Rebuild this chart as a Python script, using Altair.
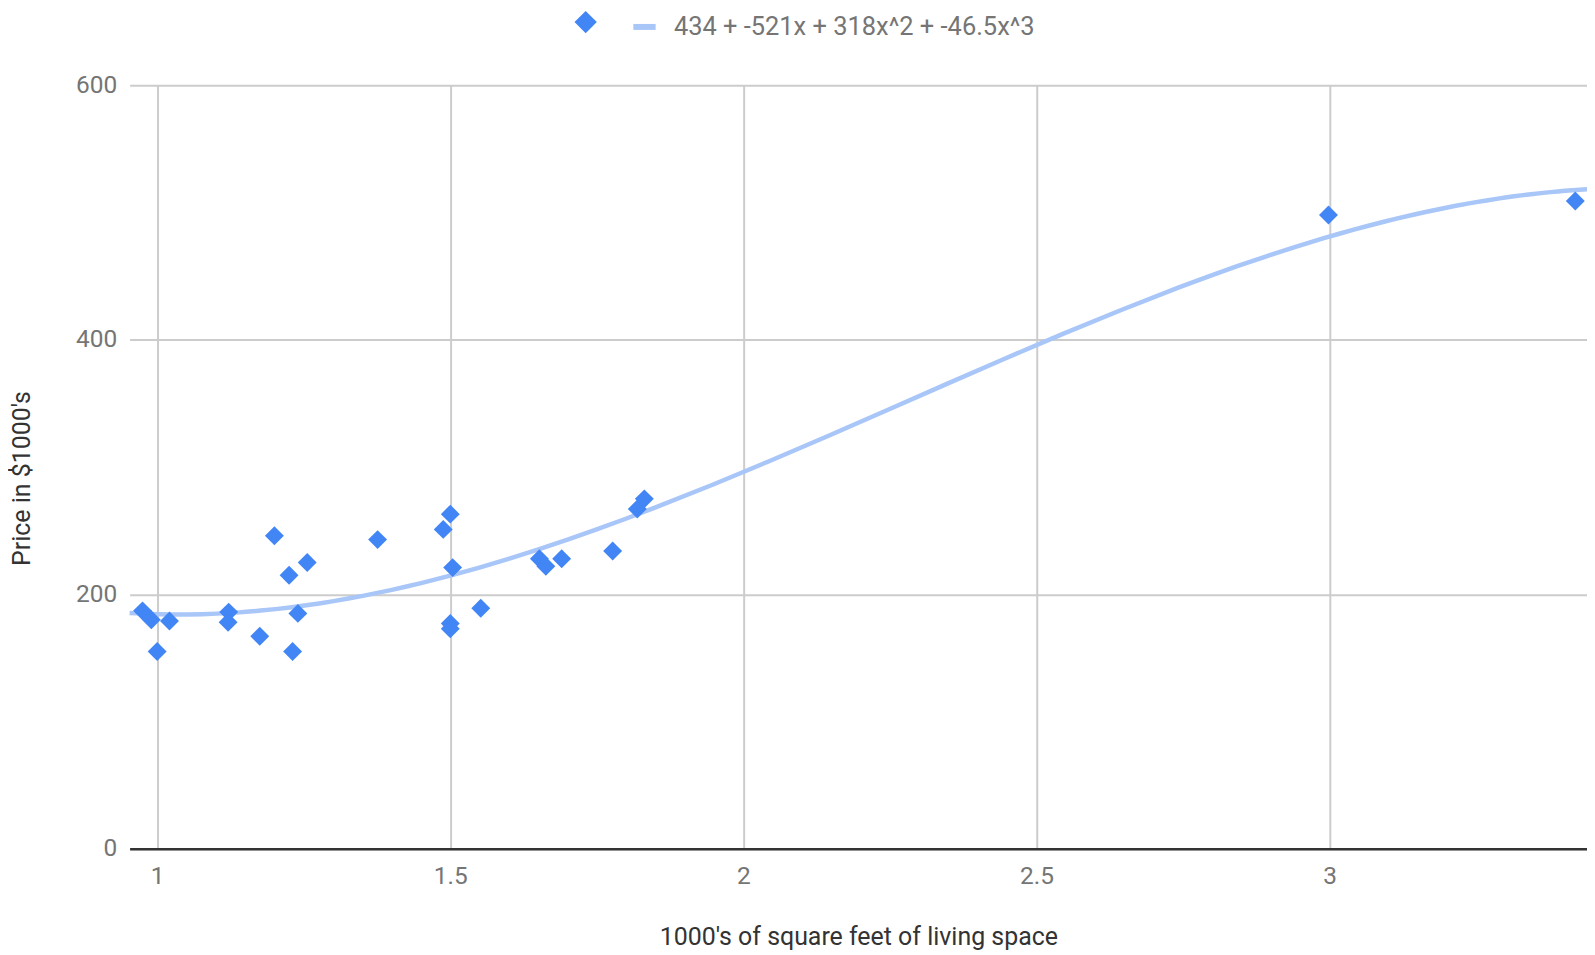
import altair as alt
import pandas as pd

# ---- data ----
sqft = [0.975, 0.990, 1.000, 1.021, 1.122, 1.121, 1.175, 1.200, 1.225, 1.231,
        1.240, 1.256, 1.376, 1.488, 1.500, 1.504, 1.500, 1.500, 1.552, 1.652,
        1.663, 1.690, 1.777, 1.819, 1.831, 2.998, 3.419]
price = [187, 180, 155, 179, 186, 178, 167, 246, 215, 155,
         185, 225, 243, 251, 263, 221, 177, 173, 189, 228,
         222, 228, 234, 267, 275, 498, 509]

points_label = " "
trend_label = "434 + -521x + 318x^2 + -46.5x^3"
series_names = [points_label, trend_label]

x_ticks = [1, 1.5, 2, 2.5, 3]
y_ticks = [0, 200, 400, 600]
x_domain = [0.953, 3.439]
y_domain = [0, 600]

x_title = "1000's of square feet of living space"
y_title = "Price in $1000's"

df = pd.DataFrame({"x": sqft, "y": price, "series": points_label})

FONT = "Roboto"
LABEL_COLOR = "#757575"
TITLE_COLOR = "#333333"
POINT_COLOR = "#4285F4"
TREND_COLOR = "#a9c6f8"

leg = alt.Legend(
    title=None,
    orient="none",
    direction="horizontal",
    legendX=443,
    legendY=-78,
    labelFont=FONT,
    labelFontSize=25.5,
    labelColor=LABEL_COLOR,
    labelLimit=2000,
    symbolSize=500,
    symbolStrokeWidth=6,
    symbolStrokeColor=TREND_COLOR,
    symbolFillColor=POINT_COLOR,
    labelOffset=15,
    columnPadding=6,
    padding=0,
)

x_enc = alt.X(
    "x:Q",
    scale=alt.Scale(domain=x_domain, nice=False, zero=False),
    axis=alt.Axis(
        values=x_ticks,
        format="~g",
        title=x_title,
        labelFont=FONT,
        labelFontSize=24.5,
        labelColor=LABEL_COLOR,
        labelPadding=16,
        ticks=False,
        domain=True,
        domainColor="#333333",
        domainWidth=2.5,
        grid=True,
        gridColor="#cccccc",
        gridWidth=2,
        titleFont=FONT,
        titleFontSize=25,
        titleFontWeight="normal",
        titleColor=TITLE_COLOR,
        titleBaseline="middle",
        titleY=88,
        labelFlush=False,
    ),
)
y_enc = alt.Y(
    "y:Q",
    scale=alt.Scale(domain=y_domain, nice=False),
    axis=alt.Axis(
        values=y_ticks,
        title=y_title,
        labelFont=FONT,
        labelFontSize=24.5,
        labelColor=LABEL_COLOR,
        labelPadding=13,
        ticks=False,
        domain=False,
        grid=True,
        gridColor="#cccccc",
        gridWidth=2,
        titleFont=FONT,
        titleFontSize=25,
        titleFontWeight="normal",
        titleColor=TITLE_COLOR,
        titleAngle=-90,
        titleAlign="center",
        titleBaseline="middle",
        titleX=-108,
        titleY=394,
    ),
)

base = alt.Chart(df)

trend = (
    base.transform_regression("x", "y", method="poly", order=3, extent=x_domain)
    .transform_calculate(series=f"'{trend_label}'")
    .mark_line(strokeWidth=4.5)
    .encode(
        x=x_enc,
        y=y_enc,
        stroke=alt.Stroke(
            "series:N",
            scale=alt.Scale(domain=series_names, range=["transparent", TREND_COLOR]),
            legend=leg,
        ),
    )
)

pts = base.mark_point(filled=True, size=360, opacity=1).encode(
    x=x_enc,
    y=y_enc,
    fill=alt.Fill(
        "series:N",
        scale=alt.Scale(domain=series_names, range=[POINT_COLOR, POINT_COLOR]),
        legend=leg,
    ),
    shape=alt.Shape(
        "series:N",
        scale=alt.Scale(domain=series_names, range=["diamond", "stroke"]),
        legend=leg,
    ),
)

chart = (
    alt.layer(trend, pts)
    .resolve_scale(fill="shared", stroke="shared", shape="shared")
    .properties(
        width=1462,
        height=766,
        autosize=alt.AutoSizeParams(type="none"),
        padding={"left": 122, "top": 76, "right": 0, "bottom": 104},
        background="white",
    )
    .configure_view(stroke=None)
)

chart.save("out.html", embed_options={"renderer": "svg", "actions": False})
